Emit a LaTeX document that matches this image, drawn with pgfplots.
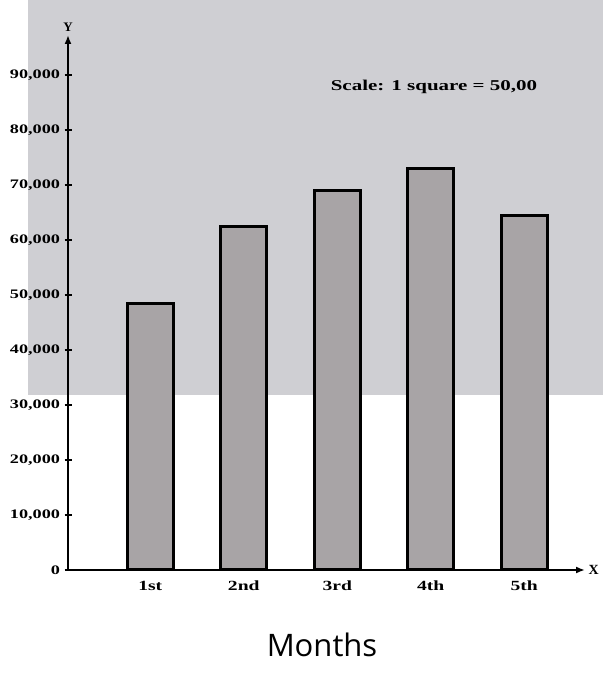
\documentclass[border=0pt]{standalone}
\usepackage{pgfplots}
\pgfplotsset{compat=1.18}
\usepackage{graphicx}
\usepackage{fontspec}
\setmainfont{Liberation Serif}
\newfontfamily\monthsfont{Open Sans}
\usetikzlibrary{arrows.meta}
\definecolor{bgray}{RGB}{207,207,211}
\definecolor{barfill}{RGB}{168,164,166}
\newcommand\yl[1]{\scalebox{1.4}[1]{\bfseries #1}}
\begin{document}
\begin{tikzpicture}[x=1pt,y=1pt]
\useasboundingbox (0,0) rectangle (603,687);
\fill[bgray] (28,292) rectangle (603,687);
\begin{axis}[
  scale only axis, width=517pt, height=535pt,
  at={(68pt,117pt)}, anchor=south west,
  xmin=0.12, xmax=5.65, ymin=0, ymax=97300,
  scaled y ticks=false,
  axis lines=left,
  axis line style={line width=2.4pt, -{Latex[length=9pt,width=7pt]}},
  clip=false,
  ytick={0,10000,20000,30000,40000,50000,60000,70000,80000,90000},
  yticklabels={\yl{0},\yl{10,000},\yl{20,000},\yl{30,000},\yl{40,000},\yl{50,000},\yl{60,000},\yl{70,000},\yl{80,000},\yl{90,000}},
  yticklabel style={font=\fontsize{13}{14}\selectfont, xshift=-1pt},
  tick align=center, major tick length=7pt,
  ytick style={line width=1.5pt, black},
  xtick={1,2,3,4,5},
  xticklabels={\yl{1st},\yl{2nd},\yl{3rd},\yl{4th},\yl{5th}},
  xticklabel style={font=\fontsize{14}{15}\selectfont, yshift=-4pt},
  xtick style={draw=none},
]
\addplot[ybar, bar width=46pt, fill=barfill, draw=black, line width=3pt]
  coordinates {(1,48500) (2,62500) (3,69000) (4,73000) (5,64500)};
\node[anchor=south, font=\bfseries\fontsize{13}{14}\selectfont] at (rel axis cs:0,1) {Y};
\node[anchor=west, font=\bfseries\fontsize{14}{15}\selectfont] at (rel axis cs:1,0) {X};
\end{axis}
\node[font=\bfseries\fontsize{15}{16}\selectfont] at (434,600) {\scalebox{1.4}[1]{Scale: 1 square = 50,00}};
\node[font=\monthsfont\fontsize{31}{33}\selectfont] at (322,42) {Months};
\end{tikzpicture}
\end{document}
